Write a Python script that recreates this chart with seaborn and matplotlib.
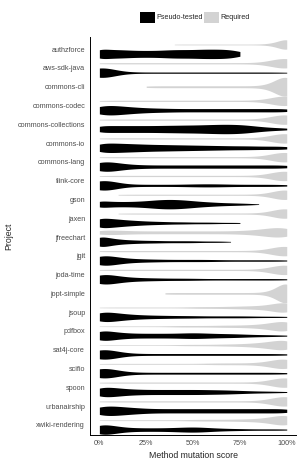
import numpy as np
import pandas as pd
import matplotlib
matplotlib.use("Agg")
import matplotlib.pyplot as plt
from matplotlib.patches import Patch
from matplotlib.ticker import PercentFormatter
import seaborn as sns

projects = ["authzforce", "aws-sdk-java", "commons-cli", "commons-codec",
            "commons-collections", "commons-io", "commons-lang", "flink-core",
            "gson", "jaxen", "jfreechart", "jgit", "joda-time", "jopt-simple",
            "jsoup", "pdfbox", "sat4j-core", "scifio", "spoon", "urbanairship",
            "xwiki-rendering"]

# method scores on a 5% grid, counts
score_bins = [0.00, 0.05, 0.10, 0.15, 0.20, 0.25, 0.30, 0.35, 0.40, 0.45, 0.50,
              0.55, 0.60, 0.65, 0.70, 0.75, 0.80, 0.85, 0.90, 0.95, 1.00]

required_counts = [
    [0, 0, 0, 0, 0, 0, 0, 0, 1, 1, 1, 1, 1, 1, 1, 1, 1, 1, 2, 6, 20],
    [1, 1, 1, 1, 1, 1, 1, 1, 1, 1, 1, 1, 1, 1, 1, 1, 1, 1, 2, 6, 20],
    [0, 0, 0, 0, 0, 1, 1, 1, 1, 1, 1, 1, 1, 1, 1, 1, 1, 1, 2, 6, 20],
    [1, 1, 1, 1, 1, 1, 1, 1, 1, 1, 1, 1, 1, 1, 1, 1, 1, 1, 2, 6, 20],
    [1, 1, 1, 1, 1, 1, 1, 1, 1, 1, 1, 1, 1, 1, 1, 1, 1, 1, 2, 6, 20],
    [1, 1, 1, 1, 1, 1, 1, 1, 1, 1, 1, 1, 1, 1, 1, 1, 1, 1, 2, 6, 20],
    [1, 1, 1, 1, 1, 1, 1, 1, 1, 1, 1, 1, 1, 1, 1, 1, 1, 1, 2, 6, 20],
    [1, 1, 1, 1, 1, 1, 1, 1, 1, 1, 1, 1, 1, 1, 1, 1, 1, 1, 2, 6, 20],
    [0, 0, 1, 1, 1, 1, 1, 1, 1, 1, 1, 1, 1, 1, 1, 1, 1, 1, 2, 6, 20],
    [0, 0, 1, 1, 1, 1, 1, 1, 1, 1, 1, 1, 1, 1, 1, 1, 1, 1, 2, 6, 20],
    [8, 7, 6, 5, 4, 4, 4, 4, 4, 4, 4, 4, 4, 4, 4, 5, 6, 8, 12, 16, 18],
    [1, 1, 1, 1, 1, 1, 1, 1, 1, 1, 1, 1, 1, 1, 1, 1, 1, 1, 2, 6, 20],
    [1, 1, 1, 1, 1, 1, 1, 1, 1, 1, 1, 1, 1, 1, 1, 1, 1, 1, 2, 6, 20],
    [0, 0, 0, 0, 0, 0, 0, 1, 1, 1, 1, 1, 1, 1, 1, 1, 1, 1, 2, 6, 20],
    [1, 1, 1, 1, 1, 1, 1, 1, 1, 1, 2, 2, 2, 2, 3, 3, 4, 4, 6, 10, 20],
    [1, 1, 1, 1, 1, 1, 1, 1, 2, 2, 2, 2, 2, 3, 3, 3, 4, 5, 8, 12, 20],
    [1, 1, 1, 1, 1, 1, 1, 1, 1, 2, 2, 2, 2, 3, 3, 4, 5, 7, 10, 14, 20],
    [1, 1, 1, 1, 1, 1, 1, 1, 1, 1, 1, 1, 2, 2, 2, 2, 2, 3, 5, 10, 20],
    [1, 1, 1, 1, 1, 1, 1, 1, 1, 1, 1, 1, 1, 1, 1, 1, 1, 1, 2, 6, 20],
    [1, 1, 1, 1, 1, 1, 1, 1, 1, 1, 1, 1, 1, 1, 1, 1, 1, 1, 2, 6, 20],
    [1, 1, 1, 1, 1, 1, 1, 1, 1, 1, 2, 2, 2, 2, 2, 3, 3, 4, 6, 10, 20],
]

pseudo_counts = [
    [14, 10, 10, 9, 8, 8, 8, 9, 10, 10, 10, 11, 11, 11, 10, 6, 0, 0, 0, 0, 0],
    [20, 6, 2, 1, 1, 1, 1, 1, 1, 1, 1, 1, 1, 1, 1, 1, 1, 1, 1, 1, 1],
    [0, 0, 0, 0, 0, 0, 0, 0, 0, 0, 0, 0, 0, 0, 0, 0, 0, 0, 0, 0, 0],
    [14, 13, 11, 9, 7, 6, 5, 5, 4, 4, 4, 4, 4, 4, 4, 4, 4, 4, 4, 4, 5],
    [14, 13, 13, 13, 13, 13, 13, 14, 14, 15, 15, 16, 17, 18, 18, 17, 14, 10, 7, 5, 4],
    [16, 15, 14, 13, 12, 11, 10, 10, 9, 9, 8, 8, 7, 7, 6, 6, 6, 5, 5, 5, 5],
    [18, 14, 9, 6, 5, 4, 4, 4, 4, 4, 4, 4, 4, 4, 4, 4, 4, 4, 4, 4, 5],
    [18, 10, 4, 2, 2, 2, 2, 2, 2, 2, 3, 3, 3, 3, 2, 2, 2, 2, 2, 2, 2],
    [14, 11, 10, 10, 11, 13, 16, 18, 18, 16, 13, 10, 8, 6, 5, 4, 3, 1, 0, 0, 0],
    [20, 17, 14, 11, 9, 7, 6, 5, 4, 4, 3, 3, 3, 2, 2, 2, 0, 0, 0, 0, 0],
    [20, 12, 8, 6, 5, 4, 4, 3, 3, 3, 3, 2, 2, 2, 1, 0, 0, 0, 0, 0, 0],
    [20, 14, 9, 6, 5, 4, 4, 3, 3, 3, 3, 3, 3, 2, 2, 2, 2, 2, 2, 2, 2],
    [20, 14, 9, 6, 5, 4, 4, 3, 3, 3, 3, 2, 2, 2, 2, 2, 2, 2, 2, 2, 2],
    [0, 0, 0, 0, 0, 0, 0, 0, 0, 0, 0, 0, 0, 0, 0, 0, 0, 0, 0, 0, 0],
    [20, 16, 12, 9, 7, 6, 5, 5, 4, 4, 4, 3, 3, 3, 3, 3, 3, 2, 2, 2, 2],
    [20, 14, 10, 8, 7, 7, 7, 7, 7, 8, 9, 8, 7, 6, 6, 5, 4, 3, 3, 2, 2],
    [20, 12, 5, 3, 2, 2, 2, 2, 2, 2, 2, 2, 2, 2, 2, 2, 2, 2, 2, 2, 2],
    [20, 12, 5, 3, 2, 2, 2, 2, 2, 2, 2, 2, 2, 2, 2, 2, 2, 2, 2, 2, 2],
    [18, 16, 13, 10, 9, 8, 8, 8, 8, 8, 8, 8, 7, 7, 6, 5, 4, 3, 3, 2, 2],
    [18, 17, 15, 12, 10, 8, 7, 7, 7, 7, 7, 7, 7, 7, 7, 7, 7, 7, 7, 7, 8],
    [20, 14, 9, 6, 5, 5, 5, 5, 6, 7, 8, 7, 5, 4, 3, 3, 2, 2, 2, 2, 2],
]

rows = []
for i, proj in enumerate(projects):
    for kind, counts in [("Required", required_counts[i]), ("Pseudo-tested", pseudo_counts[i])]:
        for s in np.repeat(score_bins, counts):
            rows.append((proj, kind, s))
df = pd.DataFrame(rows, columns=["project", "type", "score"])

# projects that have only "Required" methods get a full-width violin
n_types = df.groupby("project")["type"].nunique()
single = n_types[n_types == 1].index
both_df = df[~df["project"].isin(single)]
single_df = df[df["project"].isin(single)]

colors = {"Pseudo-tested": "#000000", "Required": "#d3d3d3"}

sns.set_style("white")
plt.rcParams["font.family"] = ["Liberation Sans", "DejaVu Sans"]

fig = plt.figure(figsize=(3.0, 4.62), dpi=100)
ax = fig.add_axes([0.30, 0.058, 0.687, 0.862])

common = dict(x="score", y="project", order=projects, density_norm="width",
              cut=0, inner=None, linewidth=0, width=1.0, saturation=1,
              bw_adjust=0.45, ax=ax)
sns.violinplot(data=both_df, hue="type", hue_order=["Required", "Pseudo-tested"],
               palette=colors, legend=False, **common)
sns.violinplot(data=single_df, color=colors["Required"], **common)

ax.set_xlim(-0.05, 1.05)
ax.set_ylim(len(projects) - 1 + 0.55, -0.65)
ax.set_xticks([0, 0.25, 0.5, 0.75, 1.0])
ax.xaxis.set_major_formatter(PercentFormatter(xmax=1, decimals=0))
ax.tick_params(axis="both", labelsize=5.2, labelcolor="#4d4d4d", length=2,
               width=0.6, color="#333333", pad=1.5)
ax.set_xlabel("Method mutation score", fontsize=6.3, labelpad=3)
ax.set_ylabel("Project", fontsize=6.3, labelpad=3)
for side in ["top", "right"]:
    ax.spines[side].set_visible(False)
for side in ["left", "bottom"]:
    ax.spines[side].set_linewidth(0.7)
    ax.spines[side].set_color("black")

handles = [Patch(facecolor=colors["Pseudo-tested"], edgecolor="none", label="Pseudo-tested"),
           Patch(facecolor=colors["Required"], edgecolor="none", label="Required")]
fig.legend(handles=handles, loc="center", bbox_to_anchor=(0.65, 0.963), ncol=2,
           frameon=False, fontsize=5.2, handlelength=2.0, handleheight=2.0,
           handletextpad=0.2, columnspacing=0.2, borderpad=0)

fig.savefig("out.png", dpi=100)
